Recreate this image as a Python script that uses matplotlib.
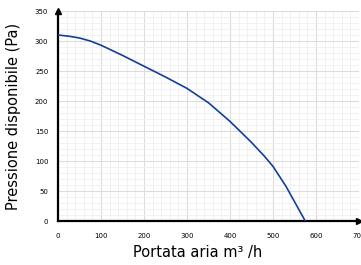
import numpy as np
import matplotlib.pyplot as plt
from matplotlib.ticker import MultipleLocator

# curve
portata = [0, 25, 50, 75, 100, 150, 200, 250, 300, 350, 400, 450, 480, 500, 530, 575]
pressione = [310, 308, 305, 300, 293, 276, 258, 240, 221, 197, 166, 131, 108, 91, 58, 0]

x_ticks = [0, 100, 200, 300, 400, 500, 600, 700]
y_ticks = [0, 50, 100, 150, 200, 250, 300, 350]


def main():
    fig = plt.figure(figsize=(3.61, 2.65), dpi=100)
    ax = fig.add_axes([58 / 361, 44 / 265, 301 / 361, 210 / 265])

    ax.plot(portata, pressione, color='#123f9a', lw=1.2, zorder=3)

    ax.set_xlim(0, 700)
    ax.set_ylim(0, 350)
    ax.set_xticks(x_ticks)
    ax.set_yticks(y_ticks)
    ax.xaxis.set_minor_locator(MultipleLocator(20))
    ax.yaxis.set_minor_locator(MultipleLocator(10))
    ax.grid(which='major', color='#dcdcdc', lw=0.8)
    ax.grid(which='minor', color='#efefef', lw=0.6)
    ax.set_axisbelow(True)

    for s in ['top', 'right']:
        ax.spines[s].set_visible(False)
    for s in ['left', 'bottom']:
        ax.spines[s].set_linewidth(1.6)
        ax.spines[s].set_color('black')
    ax.tick_params(which='both', length=0, labelsize=5, pad=9)
    ax.tick_params(axis='y', pad=7)

    # arrow heads on the axes
    ax.plot(1, 0, '>k', ms=4, transform=ax.transAxes, clip_on=False)
    ax.plot(0, 1, '^k', ms=4, transform=ax.transAxes, clip_on=False)

    ax.set_xlabel('Portata aria m\u00b3 /h', fontsize=10.5)
    ax.xaxis.set_label_coords(0.465, -0.115)
    ax.set_ylabel('Pressione disponibile (Pa)', fontsize=10.5, labelpad=10)

    fig.savefig('out.png', dpi=100)


if __name__ == '__main__':
    main()
